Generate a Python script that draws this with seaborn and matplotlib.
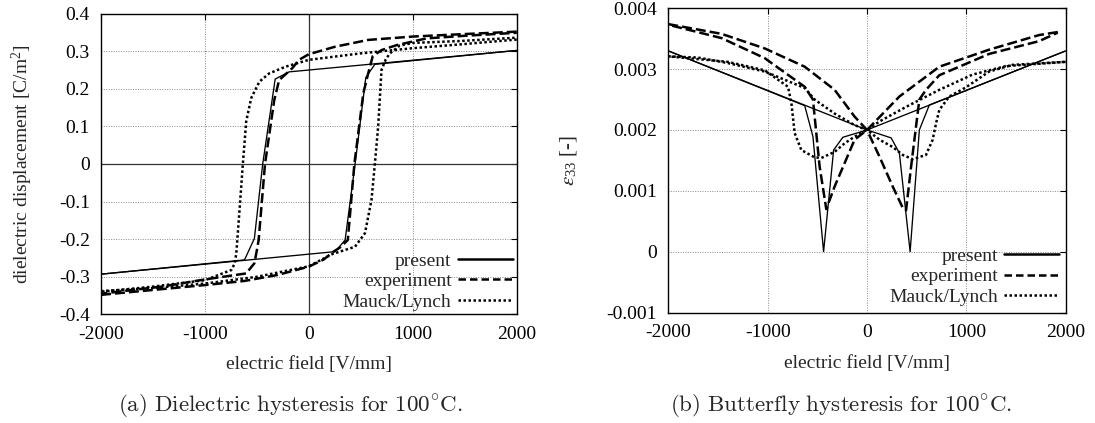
import numpy as np
import pandas as pd
import matplotlib
matplotlib.use("Agg")
import matplotlib.pyplot as plt
from matplotlib.lines import Line2D
import seaborn as sns

# ---------------- data: dielectric hysteresis (E in V/mm, D in C/m^2) ----------------
present_up_E = [-2000, 254, 349, 445, 548, 635, 2000]
present_up_D = [-0.293, -0.233, -0.202, 0.0, 0.230, 0.265, 0.302]
present_dn_E = [2000, -190, -324, -444, -524, -619, -2000]
present_dn_D = [0.302, 0.245, 0.226, 0.0, -0.198, -0.255, -0.293]

exp_up_E = [-2000, -1500, -1000, -619, -300, 0, 143, 238, 300, 375, 438, 524, 571, 615, 700, 843, 1131, 1500, 2000]
exp_up_D = [-0.348, -0.335, -0.322, -0.311, -0.295, -0.273, -0.254, -0.233, -0.222, -0.202, 0.0, 0.188, 0.241, 0.287, 0.303, 0.316, 0.334, 0.341, 0.349]
exp_dn_E = [2000, 1452, 1003, 571, 254, 0, -95, -159, -286, -333, -422, -483, -502, -524, -603, -1000, -1412, -2000]
exp_dn_D = [0.352, 0.345, 0.339, 0.330, 0.312, 0.292, 0.277, 0.255, 0.223, 0.170, 0.0, -0.202, -0.232, -0.264, -0.291, -0.307, -0.326, -0.345]

ml_up_E = [-2000, -1500, -1000, -500, 0, 222, 444, 540, 603, 635, 667, 699, 740, 779, 875, 1000, 1452, 2000]
ml_up_D = [-0.338, -0.330, -0.318, -0.300, -0.272, -0.240, -0.220, -0.184, -0.095, 0.0, 0.100, 0.250, 0.278, 0.294, 0.315, 0.322, 0.327, 0.336]
ml_dn_E = [2000, 1452, 1000, 490, 0, -222, -381, -476, -555, -603, -635, -667, -698, -714, -746, -1000, -1500, -2000]
ml_dn_D = [0.331, 0.318, 0.308, 0.294, 0.277, 0.259, 0.241, 0.219, 0.175, 0.113, 0.0, -0.122, -0.238, -0.265, -0.282, -0.309, -0.326, -0.340]

# ---------------- data: butterfly hysteresis (strain eps_33) ----------------
bp_up_E = [-2000, 0, 243, 326, 434, 527, 627, 2000]
bp_up_S = [0.00330, 0.00200, 0.00187, 0.00162, 0.0, 0.00200, 0.00241, 0.00330]
bp_dn_E = [2000, 0, -243, -336, -437, -544, -627, -2000]
bp_dn_S = [0.00330, 0.00200, 0.00188, 0.00167, 0.0, 0.00189, 0.00240, 0.00330]

be_up_E = [-2000, -1464, -1029, -627, -326, -125, 0, 126, 259, 360, 393, 444, 527, 594, 728, 1229, 1732, 1920]
be_up_S = [0.00374, 0.00358, 0.00334, 0.00304, 0.00266, 0.00222, 0.00200, 0.00156, 0.00107, 0.00072, 0.00068, 0.00140, 0.00250, 0.00266, 0.00290, 0.00325, 0.00346, 0.00360]
be_dn_E = [1920, 1732, 1229, 728, 326, 0, -125, -326, -410, -477, -544, -627, -1029, -1464, -2000]
be_dn_S = [0.00361, 0.00356, 0.00332, 0.00304, 0.00255, 0.00200, 0.00184, 0.00107, 0.00070, 0.00140, 0.00250, 0.00271, 0.00318, 0.00351, 0.00373]

bm_up_E = [-2000, -1700, -1400, -1029, -627, -527, -326, -125, 0, 126, 259, 360, 460, 594, 661, 695, 728, 828, 995, 1229, 1464, 2000]
bm_up_S = [0.00321, 0.00319, 0.00310, 0.00296, 0.00269, 0.00250, 0.00227, 0.00208, 0.00200, 0.00184, 0.00172, 0.00159, 0.00152, 0.00159, 0.00184, 0.00211, 0.00233, 0.00255, 0.00270, 0.00296, 0.00307, 0.00312]
bm_dn_E = [2000, 1397, 1062, 728, 393, 126, 0, -125, -226, -326, -460, -527, -661, -728, -761, -795, -1029, -1400, -2000]
bm_dn_S = [0.00312, 0.00305, 0.00291, 0.00266, 0.00238, 0.00214, 0.00200, 0.00189, 0.00178, 0.00164, 0.00154, 0.00155, 0.00167, 0.00195, 0.00244, 0.00271, 0.00298, 0.00312, 0.00321]

x_ticks = [-2000, -1000, 0, 1000, 2000]
x_ticklabels = ["-2000", "-1000", "0", "1000", "2000"]
d_ticks = [-0.4, -0.3, -0.2, -0.1, 0.0, 0.1, 0.2, 0.3, 0.4]
d_ticklabels = ["-0.4", "-0.3", "-0.2", "-0.1", "0", "0.1", "0.2", "0.3", "0.4"]
s_ticks = [-0.001, 0.0, 0.001, 0.002, 0.003, 0.004]
s_ticklabels = ["-0.001", "0", "0.001", "0.002", "0.003", "0.004"]

labels = ["present", "experiment", "Mauck/Lynch"]
captions = [r"$\mathrm{(a)\ Dielectric\ hysteresis\ for\ 100^{\circ}C.}$",
            r"$\mathrm{(b)\ Butterfly\ hysteresis\ for\ 100^{\circ}C.}$"]

# ---------------- styling ----------------
sns.set_style("white")
plt.rcParams["font.family"] = ["Liberation Serif", "DejaVu Serif"]
plt.rcParams["axes.unicode_minus"] = False

FS = 14
DASH = (0, (4, 1.6))
DOT = (0, (1, 1))
styles = {
    "present": dict(linestyle="-", linewidth=0.95),
    "experiment": dict(linestyle=DASH, linewidth=1.8),
    "Mauck/Lynch": dict(linestyle=DOT, linewidth=1.8),
}

fig = plt.figure(figsize=(10.95, 4.23), dpi=100)
axL = fig.add_axes([101 / 1095, 1 - 314.4 / 423, 415.7 / 1095, 300.8 / 423])
axR = fig.add_axes([668.3 / 1095, 1 - 312.5 / 423, 397.4 / 1095, 304.2 / 423])


def draw_branches(ax, branches):
    for name, (E, V) in branches:
        df = pd.DataFrame({"E": E, "V": V})
        sns.lineplot(data=df, x="E", y="V", ax=ax, sort=False, estimator=None,
                     color="black", solid_capstyle="butt", dash_capstyle="butt",
                     **styles[name])


def style_axes(ax, yticks, yticklabels, ylim, legend_pad):
    ax.set_xlim(-2000, 2000)
    ax.set_ylim(*ylim)
    ax.set_xticks(x_ticks)
    ax.set_xticklabels(x_ticklabels)
    ax.set_yticks(yticks)
    ax.set_yticklabels(yticklabels)
    ax.tick_params(direction="in", length=4, width=0.8, top=True, right=True,
                   labelsize=FS, pad=8, colors="black")
    ax.grid(True, color="#8a8a8a", linestyle=(0, (1, 1.5)), linewidth=0.7)
    ax.set_axisbelow(True)
    for sp in ax.spines.values():
        sp.set_color("black")
        sp.set_linewidth(1.0)
    ax.set_xlabel("electric field [V/mm]", fontsize=FS, labelpad=10)
    handles = [Line2D([], [], color="black", linestyle="-", linewidth=1.8),
               Line2D([], [], color="black", linestyle=(0, (3, 1.6)), linewidth=1.8),
               Line2D([], [], color="black", linestyle=DOT, linewidth=1.8)]
    ax.legend(handles, labels, loc="lower right", frameon=False, markerfirst=False,
              fontsize=FS, handlelength=2.8, handletextpad=0.35, labelspacing=0.14,
              borderaxespad=legend_pad, borderpad=0.2)


# left: dielectric displacement loop
draw_branches(axL, [
    ("experiment", (exp_up_E, exp_up_D)), ("experiment", (exp_dn_E, exp_dn_D)),
    ("Mauck/Lynch", (ml_up_E, ml_up_D)), ("Mauck/Lynch", (ml_dn_E, ml_dn_D)),
    ("present", (present_up_E, present_up_D)), ("present", (present_dn_E, present_dn_D)),
])
style_axes(axL, d_ticks, d_ticklabels, (-0.4, 0.4), 0.0)
axL.axhline(0, color="#333333", linewidth=0.9, zorder=1)
axL.axvline(0, color="#333333", linewidth=0.9, zorder=1)
axL.set_ylabel(r"dielectric displacement [C/m$\mathregular{^2}$]", fontsize=FS, labelpad=17)

# right: butterfly strain loop
draw_branches(axR, [
    ("experiment", (be_up_E, be_up_S)), ("experiment", (be_dn_E, be_dn_S)),
    ("Mauck/Lynch", (bm_up_E, bm_up_S)), ("Mauck/Lynch", (bm_dn_E, bm_dn_S)),
    ("present", (bp_up_E, bp_up_S)), ("present", (bp_dn_E, bp_dn_S)),
])
style_axes(axR, s_ticks, s_ticklabels, (-0.001, 0.004), 0.15)
axR.set_ylabel(r"$\varepsilon_{\mathregular{33}}$ [-]", fontsize=FS + 1, labelpad=20,
               math_fontfamily="stix")

# sub-figure captions
fig.text(290 / 1095, 1 - 405 / 423, captions[0], ha="center", va="center",
         fontsize=16.6, math_fontfamily="cm")
fig.text(841 / 1095, 1 - 405 / 423, captions[1], ha="center", va="center",
         fontsize=16.6, math_fontfamily="cm")

fig.savefig("out.png", dpi=100)
